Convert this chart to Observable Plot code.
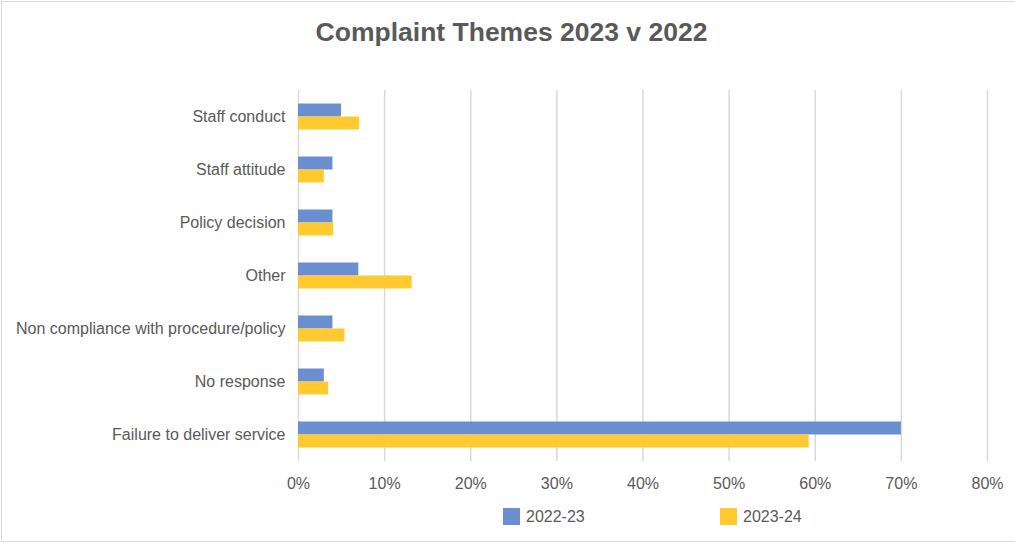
<!DOCTYPE html>
<html>
<head>
<meta charset="utf-8">
<script src="https://cdn.jsdelivr.net/npm/d3@7"></script>
<script src="https://cdn.jsdelivr.net/npm/@observablehq/plot@0.6"></script>
<style>
  html, body { margin: 0; padding: 0; background: #fff; }
  #wrap { position: relative; width: 1015px; height: 544px; overflow: hidden;
          font-family: "Liberation Sans", Arial, sans-serif; color: #595959; }
  #frame { position: absolute; left: 1px; top: 1px; width: 1020px; height: 541px;
           border: 1.5px solid #d9d9d9; box-sizing: border-box; }
  #title { position: absolute; left: 4px; top: 19px; width: 1015px; text-align: center;
           font-size: 26.5px; font-weight: bold; line-height: 26.5px; color: #595959; }
  #chart { position: absolute; left: 0; top: 60px; }
  .leg { position: absolute; top: 506px; display: flex; align-items: center;
         font-size: 16px; line-height: 20px; color: #595959; }
  .leg span { position: relative; top: 1px; }
  .sw { width: 17px; height: 17px; margin-right: 6px; }
</style>
</head>
<body>
<div id="wrap">
  <div id="frame"></div>
  <div id="title">Complaint Themes 2023 v 2022</div>
  <div id="chart"></div>
  <div class="leg" style="left:503px"><div class="sw" style="background:#6a8fd0"></div><span>2022-23</span></div>
  <div class="leg" style="left:720px"><div class="sw" style="background:#ffca30"></div><span>2023-24</span></div>
</div>
<script>
const categories = [
  "Staff conduct",
  "Staff attitude",
  "Policy decision",
  "Other",
  "Non compliance with procedure/policy",
  "No response",
  "Failure to deliver service"
];
const series = ["2022-23", "2023-24"];
const values2022 = [5.0, 4.0, 4.0, 7.0, 4.0, 3.0, 70.0];
const values2023 = [7.1, 3.0, 4.1, 13.2, 5.4, 3.5, 59.3];
const xTicks = [0, 10, 20, 30, 40, 50, 60, 70, 80];
const colors = ["#6a8fd0", "#ffca30"];

const rows = [];
categories.forEach((c, i) => {
  rows.push({category: c, series: series[0], value: values2022[i]});
  rows.push({category: c, series: series[1], value: values2023[i]});
});

const chart = Plot.plot({
  width: 1015,
  height: 440,
  marginTop: 29.5,
  marginBottom: 39.5,
  marginLeft: 298,
  marginRight: 28,
  style: {fontFamily: "'Liberation Sans', Arial, sans-serif", fontSize: "16px", color: "#595959", background: "transparent"},
  x: {domain: [0, 80], ticks: xTicks, tickFormat: d => d + "%", tickSize: 0, tickPadding: 16, label: null},
  y: {domain: series, paddingInner: 0, paddingOuter: 0.9, axis: null},
  fy: {domain: categories, padding: 0, label: null, axis: "left", tickSize: 0, tickPadding: 13},
  color: {domain: series, range: colors},
  marks: [
    Plot.ruleX(xTicks, {stroke: "#d9d9d9", strokeWidth: 1.5}),
    Plot.barX(rows, {fy: "category", y: "series", x: "value", fill: "series", insetTop: 0, insetBottom: 0})
  ]
});
document.getElementById("chart").appendChild(chart);
</script>
</body>
</html>
